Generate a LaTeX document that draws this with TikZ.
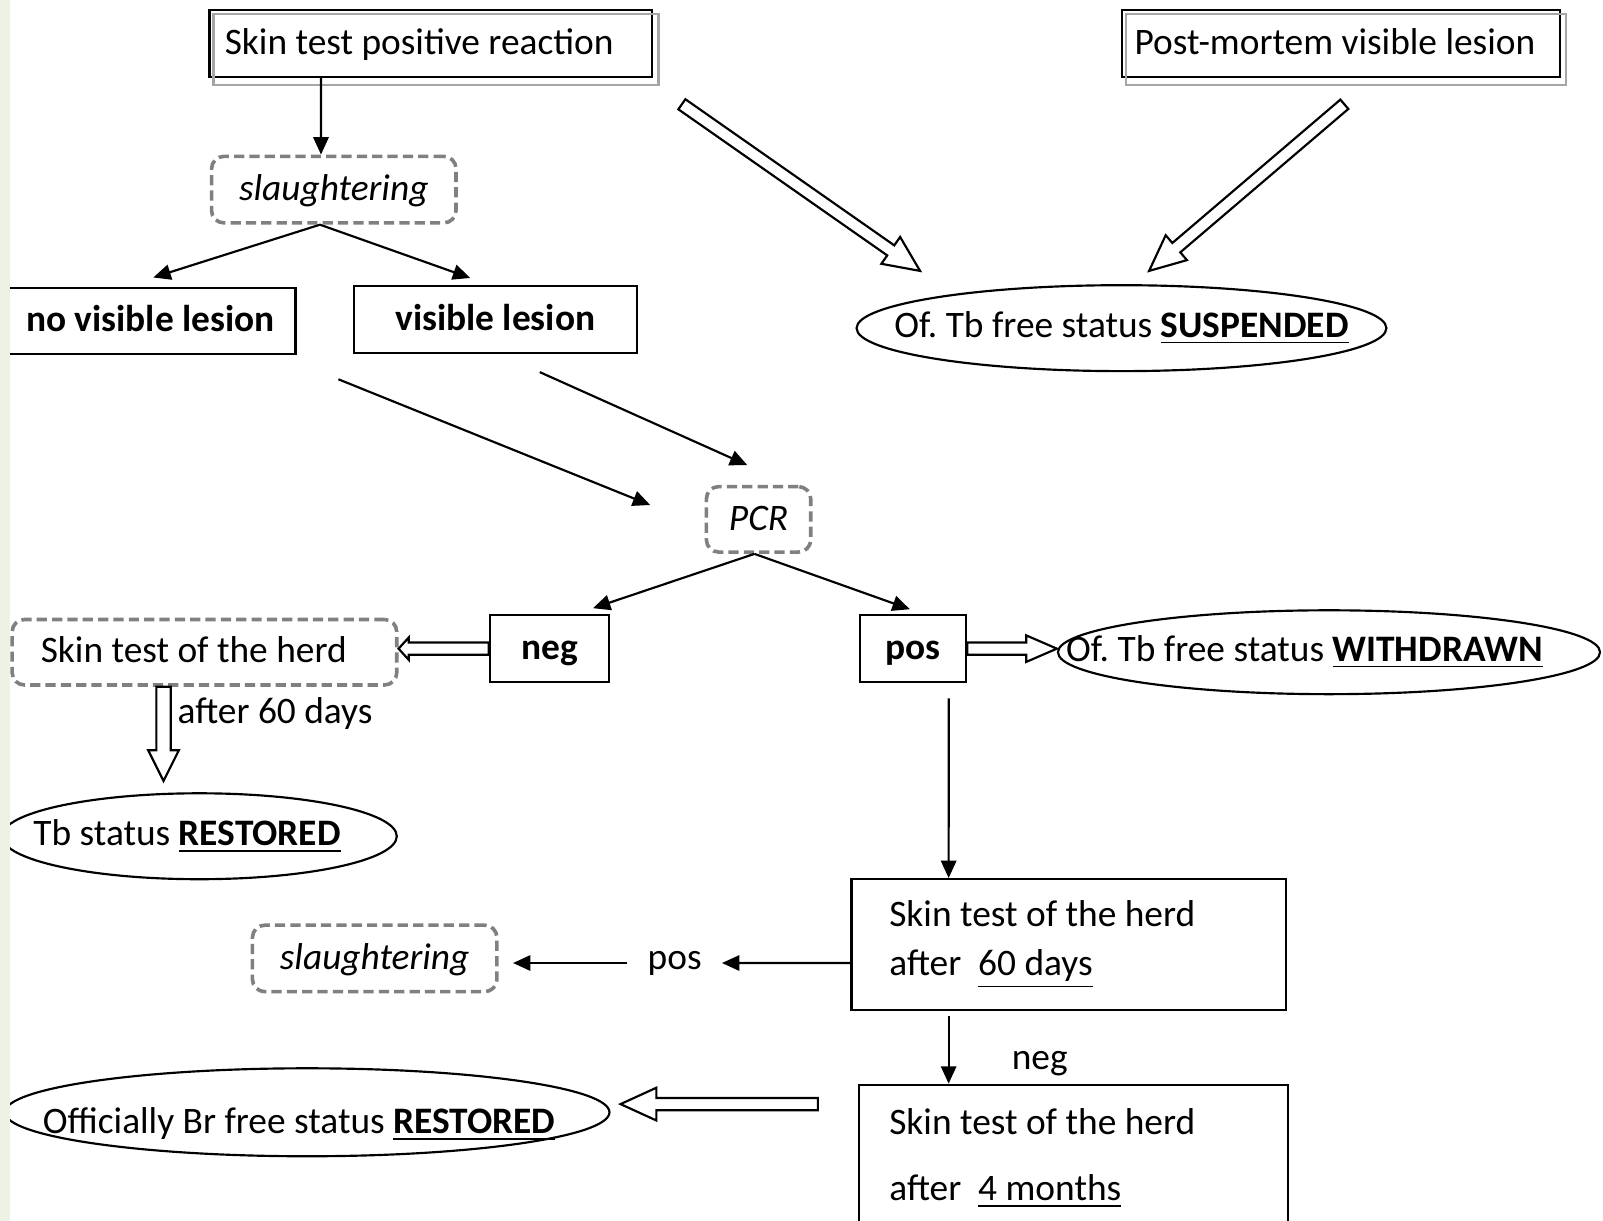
\documentclass[tikz,border=0pt]{standalone}
\usepackage{fontspec}
\setmainfont{Carlito}
\frenchspacing
\usetikzlibrary{arrows.meta,calc,shapes.geometric}
\definecolor{stripgreen}{HTML}{EEF2E5}
\newcommand{\hollowarrow}[5]{%
  \coordinate (hc) at ($(#2)!#5!(#1)$);
  \draw[hollow] ($(#1)!#3!90:(#2)$) -- ($(hc)!#3!90:(#2)$) -- ($(hc)!#4!90:(#2)$)
    -- (#2) -- ($(hc)!#4!-90:(#2)$) -- ($(hc)!#3!-90:(#2)$) -- ($(#1)!#3!-90:(#2)$) -- cycle;}

\begin{document}
\begin{tikzpicture}[x=0.01cm, y=-0.01cm,
      font=\fontsize{10.4}{12.5}\selectfont,
      every node/.style={inner sep=0pt},
      oneline/.style={text height=0.3cm, text depth=0.09cm},
      frame/.style={draw, rectangle, line width=0.6pt, minimum height=0.65cm},
      dashbox/.style={draw=gray, rectangle, rounded corners=0.12cm, line width=1pt,
        dash pattern=on 0.1cm off 0.05cm, minimum height=0.65cm},
      status/.style={draw, ellipse, line width=0.6pt},
      arr/.style={line width=0.6pt, -{Triangle[length=0.17cm, width=0.15cm]}},
      hollow/.style={draw, line width=0.6pt, fill=white, line join=miter}]
      \useasboundingbox (0,0) rectangle (1568,1194);
      \node[frame, oneline, text width=4.03cm, inner xsep=0.15cm, align=flush left] (stpr) at (421.5,42.5) {Skin test positive reaction};
      \draw[gray!70, line width=0.6pt] ([shift={(0.05cm,-0.05cm)}]stpr.north west) rectangle ([shift={(0.05cm,-0.07cm)}]stpr.south east);
      \node[frame, oneline, text width=4.04cm, inner xsep=0.12cm, align=flush left] (pmvl) at (1312,42.5) {Post-mortem visible lesion};
      \draw[gray!70, line width=0.6pt] ([shift={(0.05cm,-0.05cm)}]pmvl.north west) rectangle ([shift={(0.05cm,-0.07cm)}]pmvl.south east);
      \node[dashbox, oneline, minimum width=2.39cm] (sl1) at (326.5,185.5) {\textit{slaughtering}};
      \node[frame, oneline, minimum width=2.84cm] (nvl) at (147,314) {\textbf{no visible lesion}};
      \node[frame, oneline, minimum width=2.77cm] (vl) at (484.5,312.5) {\textbf{visible lesion}};
      \node[status, minimum width=5.18cm, minimum height=0.84cm,
        label={center:{Of. Tb free status \underline{\textbf{SUSPENDED}}}}] (susp) at (1097,321) {};
      \node[dashbox, oneline, minimum width=1.02cm, minimum height=0.64cm] (pcr) at (742,508) {\textit{PCR}};
      \node[frame, oneline, minimum width=1.17cm] (neg) at (537.5,634.5) {\textbf{neg}};
      \node[frame, oneline, minimum width=1.04cm] (pos) at (893,634.5) {\textbf{pos}};
      \node[dashbox, oneline, minimum height=0.64cm, text width=3.2cm, inner xsep=0.28cm, align=flush left] (sth1) at (200,638) {Skin test of the herd};
      \node[status, minimum width=5.30cm, minimum height=0.82cm,
        label={[xshift=-0.24cm]center:{Of. Tb free status \underline{\textbf{WITHDRAWN}}}}] (wdr) at (1300,638) {};
      \node[anchor=west] (a60) at (173,698) {after 60 days};
      \node[status, minimum width=3.86cm, minimum height=0.84cm,
        label={[xshift=-0.12cm]center:{Tb status \underline{\textbf{RESTORED}}}}] (rst) at (195,818) {};
      \node[frame, minimum height=1.28cm, text width=3.51cm, inner xsep=0.37cm, align=flush left] (sth60) at (1045.5,924)
        {Skin test of the herd\\[0.04cm] after\ \ \underline{60 days}};
      \node (poslbl) at (660,942) [minimum width=0.91cm] {pos};
      \node[dashbox, oneline, minimum width=2.39cm] (sl2) at (366.5,937.5) {\textit{slaughtering}};
      \node (neglbl) at (1017,1040) {neg};
      \node[frame, anchor=north, text width=3.6cm, inner xsep=0.3cm, inner ysep=0.23cm, align=flush left] (m4) at (1050,1060)
        {Skin test of the herd\\[0.21cm] after\ \ \underline{4 months}};
      \node[status, minimum width=5.91cm, minimum height=0.86cm,
        label={[xshift=-0.08cm, yshift=-0.12cm]center:{Officially Br free status \underline{\textbf{RESTORED}}}}] (obr) at (300.5,1088) {};

      \draw[arr] ([xshift=-1.075cm]stpr.south) -- ([xshift=-0.125cm]sl1.north);
      \draw[arr] ([xshift=-0.135cm]sl1.south) -- ([shift={(0.03cm,0.09cm)}]nvl.north);
      \draw[arr] ([xshift=-0.135cm]sl1.south) -- ([shift={(-0.245cm,0.07cm)}]vl.north);
      \coordinate (nvlout) at (331,371);
      \coordinate (vlout) at (528,364);
      \coordinate (pcrin1) at (636,494);
      \coordinate (pcrin2) at (731,455);
      \draw[arr] (nvlout) -- (pcrin1);
      \draw[arr] (vlout) -- (pcrin2);
      \draw[arr] ([xshift=-0.04cm]pcr.south) -- ([shift={(0.425cm,0.06cm)}]neg.north);
      \draw[arr] ([xshift=-0.04cm]pcr.south) -- ([shift={(-0.03cm,0.05cm)}]pos.north);
      \draw[arr] ([shift={(0.35cm,-0.15cm)}]pos.south) -- ([xshift=-1.175cm]sth60.north);
      \draw[arr] ([yshift=-0.18cm]sth60.west) -- (poslbl.east);
      \draw[arr, shorten >=0.14cm] (poslbl.west) -- (poslbl.west -| sl2.east);
      \coordinate (negtop) at ([shift={(-1.175cm,-0.05cm)}]sth60.south);
      \draw[arr] (negtop) -- (negtop |- m4.north);

      \coordinate (susptail1) at (667,102);
      \coordinate (susphead1) at (900,265);
      \coordinate (susptail2) at (1315,102);
      \coordinate (susphead2) at (1124,265);
      \hollowarrow{susptail1}{susphead1}{0.06cm}{0.16cm}{0.35cm}
      \hollowarrow{susptail2}{susphead2}{0.06cm}{0.16cm}{0.35cm}
      \coordinate (sthtip) at (neg.west -| sth1.east);
      \hollowarrow{neg.west}{sthtip}{0.06cm}{0.11cm}{0.1cm}
      \coordinate (wdrtip) at (pos.east -| wdr.west);
      \hollowarrow{pos.east}{wdrtip}{0.06cm}{0.13cm}{0.3cm}
      \coordinate (sthout) at ([xshift=-0.40cm]sth1.south);
      \coordinate (rsttip) at ([shift={(-0.35cm,0.11cm)}]rst.north);
      \hollowarrow{sthout}{rsttip}{0.07cm}{0.15cm}{0.3cm}
      \coordinate (m4tail) at (800,1080);
      \coordinate (obrtip) at (607,1080);
      \hollowarrow{m4tail}{obrtip}{0.06cm}{0.16cm}{0.35cm}

      \fill[stripgreen] (0,0) rectangle (10,1194);
\end{tikzpicture}
\end{document}
